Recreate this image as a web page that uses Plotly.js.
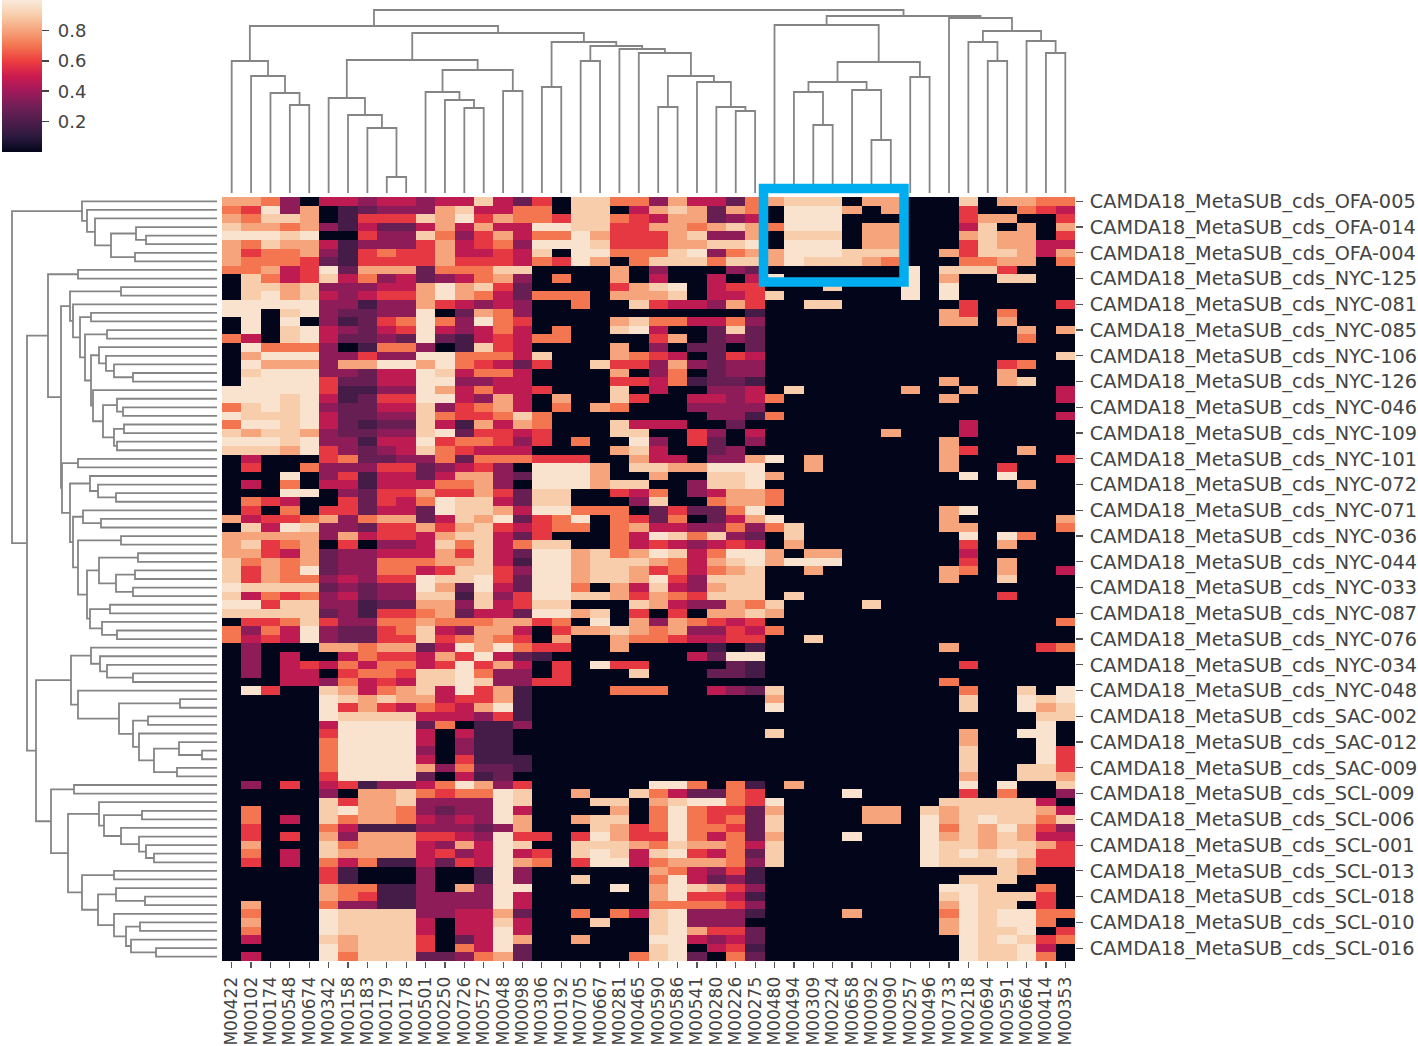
<!DOCTYPE html>
<html>
<head>
<meta charset="utf-8">
<script src="https://cdn.plot.ly/plotly-3.0.1.min.js"></script>
<style>html,body{margin:0;padding:0;background:#fff}</style>
</head>
<body>
<div id="chart" style="width:1418px;height:1046px"></div>
<script>
const columnLabels = ["M00422","M00102","M00174","M00548","M00674","M00342","M00158","M00183","M00179","M00178","M00501","M00250","M00726","M00572","M00048","M00098","M00306","M00192","M00705","M00667","M00281","M00465","M00590","M00586","M00541","M00280","M00226","M00275","M00480","M00494","M00309","M00224","M00658","M00092","M00090","M00257","M00496","M00733","M00218","M00694","M00591","M00664","M00414","M00353"];
const rowTickLabels = ["OFA-005","OFA-014","OFA-004","NYC-125","NYC-081","NYC-085","NYC-106","NYC-126","NYC-046","NYC-109","NYC-101","NYC-072","NYC-071","NYC-036","NYC-044","NYC-033","NYC-087","NYC-076","NYC-034","NYC-048","SAC-002","SAC-012","SAC-009","SCL-009","SCL-006","SCL-001","SCL-013","SCL-018","SCL-010","SCL-016"];
const colorbarTicks = [0.2,0.4,0.6,0.8];
// value of each digit used in the rows below
const levelValues = [0,0.17,0.27,0.36,0.47,0.58,0.7,0.8,0.9,0.97];
// one string per row, one digit per column
const rowLevels = [
"7763044344 3448425088 66 3744267888 0770008077 66",
"6593701233 3784466088 04 7872760999 7070005006 54",
"7688701555 8795766588 65 4772340999 0000005770 05",
"8776731422 4747449988 55 7767876999 0770004807 07",
"9998900533 8635746697 55 5783370888 0770007877 05",
"7687741333 5745639998 55 5778890999 0770005877 44",
"7566731565 5744548099 66 6893677999 8880075887 47",
"7666521555 5755546597 06 8886887988 8760006677 06",
"6674592777 2666880000 70 3000320000 0009088850 00",
"0864584634 2346730600 70 4004049000 0009070088 00",
"0887833344 7978520000 57 8904550008 0009090000 00",
"0897843455 7976426660 77 7804458000 0009090000 00",
"9999933133 7543430060 08 5443750088 0000005000 05",
"9908932233 9027630000 00 0000010000 0000075060 00",
"0909031256 9639650000 78 6644630000 0000077070 00",
"0908943245 9434640600 89 4002820000 0000000007 07",
"6408942232 9214546600 00 5702320000 0000000006 00",
"0966630166 3018540000 70 3022020000 0000000000 00",
"0799933533 9966648000 76 5402540000 0000000000 08",
"0977737799 7965425008 55 3732330000 0000000056 00",
"0899933244 9846640000 70 3602330000 0000000070 00",
"0999952244 9933440000 55 4612210000 0000070078 00",
"9999951133 9746445000 80 4003340800 0007007000 04",
"9998941255 9943740700 85 0044346000 0000070000 04",
"6898932244 8356740607 60 0033330000 0000000000 00",
"9888942233 8655686000 00 0003316000 0000000000 04",
"6998942122 8417476000 84 4400200000 0000004000 00",
"8788732233 8925545000 88 0053040000 0070004000 00",
"9998933144 9566535060 09 3052030000 0000070000 00",
"8887953234 8654440000 78 4002300000 0000075007 00",
"0400056223 3626665550 07 4403379070 0000070000 05",
"0500633355 2345309997 08 8779990070 0000070050 00",
"0009035144 2477329997 00 7008897000 0000009090 00",
"0406044144 4667309997 88 0038890000 0000000007 00",
"0009903255 7557528800 54 6034776000 0000000000 00",
"0654005254 6988428800 03 8006776000 0000000000 00",
"0506055244 2988749966 60 2522690000 0000079000 00",
"7455673677 2487925690 65 2602479000 0000070000 07",
"0849833255 7578545660 67 4433636800 0000077000 06",
"7777737455 4788425000 64 9868320800 0000009096 00",
"7856705033 4868468800 64 5434540700 0000005070 00",
"7754723344 4758429978 67 9846997077 0000004000 00",
"8676723366 6778419978 88 7647897999 0000005070 00",
"8576923366 4588539978 87 5646780070 0000076070 04",
"8576634355 9889529978 87 9538880000 0000070080 00",
"9888823233 9729429960 74 8437880000 0000000000 00",
"8465634233 8818359988 75 7658880800 0000000050 00",
"9958833122 7738458800 08 7433768000 0800000000 00",
"8888823155 6724429978 05 0507787000 0000000000 00",
"0556853366 7666775609 07 3765450000 0000000000 06",
"6364932256 8437740577 87 6733546000 0000000000 00",
"6454932255 8567650700 76 6544550080 0000000000 00",
"0300077677 2497965500 70 0001010000 0000070000 56",
"0304004655 4759421000 00 0042990000 0000000000 00",
"0304546466 4595740509 55 0000210000 0000005000 00",
"0304405665 8896330500 08 0002210000 0000000000 00",
"0004436454 8898335500 00 0000000000 0000060000 00",
"0950087467 8495710000 66 6004328000 0000006008 09",
"0000098787 7455710000 00 0000007000 0000008009 89",
"0000095754 6547910000 00 0000009000 0000008009 78",
"0000098888 4443510000 00 0000000000 0000000000 88",
"0000049999 2601130000 00 0000000000 0000000000 90",
"0000059999 4041100000 00 0000008000 0000007009 90",
"0000069999 4031100000 00 0000000000 0000007000 90",
"0000069999 3031100000 00 0000000000 0000008000 95",
"0000069999 4051110000 00 0000000000 0000008000 95",
"0000069999 7362210000 00 0000000000 0000008008 85",
"0000059999 2041200000 00 0000000000 0000007008 87",
"0305045133 4697350000 00 9960610700 0000009090 08",
"0000030778 6566980070 08 6422650000 9000005060 03",
"0000085778 3333980008 80 7899659000 0000088888 40",
"0600089776 3233940000 70 6965527000 0770878888 74",
"0604086776 4343970078 80 6965628000 0770978988 68",
"0500064111 3332370008 75 6966528000 0000968797 53",
"0505073777 5543955059 75 5964627000 9000978787 44",
"0700086777 4374980088 87 6877648000 0000988788 75",
"0604087777 4534945089 84 8954628000 0000989898 55",
"0504064611 4254976059 94 6777638000 0000988887 55",
"0000051000 3001930000 00 7643510000 0000000087 00",
"0000051000 3001930080 00 6942310000 0000008880 00",
"0000076611 3073990000 90 7987530000 0000099800 60",
"0000076511 3333940000 00 7955410000 0000089888 50",
"0700063311 3333940000 00 6666530000 0000079880 50",
"0600098888 3344720060 64 8933310000 7000069899 66",
"0700098888 4044840008 00 8933300000 0000079899 60",
"0600098888 4044940000 00 8975520000 0000079889 05",
"0400087888 5024970070 00 9943420000 0000009898 56",
"0000097888 5064920000 00 8904510000 0000009889 40",
"0400096888 2236720000 06 8920620000 0000009889 60"
];
// dendrograms: [bar position, first child, second child]; a plain number is a leaf index
const columnTree = [10,
  [26,
    [61,0,[76,1,[93,2,[105,3,4]]]],
    [33,
      [60,
        [98,5,[115,6,[128,7,[177,8,9]]]],
        [70,[92,10,[100,11,[108,12,13]]],[91,14,15]]
      ],
      [42,[87,16,17],[46,[61,18,19],[49,20,[53,21,[76,[107,22,23],[82,24,[107,25,[111,26,27]]]]]]]]
    ]
  ],
  [16,
    [25,28,[62,[82,[92,29,[125,30,31]],[90,32,[140,33,34]]],[77,35,36]]],
    [18,37,[31,[42,38,[61,39,40]],[41,41,[53,42,43]]]]
  ]
];
const rowTree = [12,
  [82,0,[87,1,[95,2,[111,[136,3,[146,4,5]],[135,6,7]]]]],
  [27,
    [48,[78,8,9],
      [61,
        [70,[121,10,11],[73,12,[80,[91,13,14],[85,[107,15,16],[91,[99,17,[106,18,[114,19,[133,20,21]]]],[93,22,[103,[117,23,[123,24,25]],[114,[124,26,27],[117,28,29]]]]]]]]],
        [62,[78,30,31],[70,[90,32,[98,33,[116,34,35]]],[73,[83,36,[101,37,38]],[78,[121,39,40],[87,[99,[138,41,42],[116,[135,43,44],[133,45,46]]],[90,[110,47,48],[102,49,[117,50,51]]]]]]]]
      ]
    ],
    [36,
      [71,
        [91,52,[100,53,[107,54,[133,55,56]]]],
        [78,57,[119,[180,58,59],[133,[148,60,61],[139,62,[154,[179,63,[202,64,65]],[177,66,67]]]]]]
      ],
      [51,
        [74,68,69],
        [68,
          [99,70,[104,[142,71,72],[121,73,[139,74,[146,75,[154,76,77]]]]]],
          [82,[114,78,79],[98,[116,80,[145,81,82]],[114,83,[126,[140,84,85],[131,86,[156,87,88]]]]]]
        ]
      ]
    ]
  ]
];
const rocket = [[0,"#03051A"],[0.1,"#2B1A3F"],[0.2,"#4E1D4B"],[0.3,"#711F57"],[0.4,"#A11A5B"],[0.5,"#CB1B4F"],[0.6,"#ED3F3F"],[0.7,"#F37651"],[0.8,"#F6A47C"],[0.9,"#F8CDAB"],[1,"#FAEBDD"]];

const W = 1418, H = 1046;
const z = rowLevels.map(r => r.replace(/ /g,"").padEnd(columnLabels.length,"0").split("").map(d => levelValues[+d]));
const rowIdx = z.map((_,i) => i);
const colIdx = columnLabels.map((_,i) => i);
const rowTicks = rowTickLabels.map((_,i) => i*3);

function walk(node, pos, bar, base) {
  if (typeof node === "number") return {p:node, b:base};
  const a = walk(node[1],pos,bar,base), c = walk(node[2],pos,bar,base);
  pos.push(a.p,a.p,c.p,c.p,null);
  bar.push(a.b,node[0],node[0],c.b,null);
  return {p:(a.p+c.p)/2, b:node[0]};
}
const topX=[], topY=[]; walk(columnTree,topX,topY,193);
const leftY=[], leftX=[]; walk(rowTree,leftY,leftX,217);

const lineStyle = {color:"#858585",width:1.8};
const data = [
  {type:"heatmap",z:z,x:colIdx,y:rowIdx,xaxis:"x",yaxis:"y",colorscale:rocket,zmin:0,zmax:1,hoverinfo:"skip",
   colorbar:{thicknessmode:"pixels",thickness:40,lenmode:"pixels",len:152,x:2/W,xanchor:"left",y:1,yanchor:"top",xpad:0,ypad:0,
     outlinewidth:0,borderwidth:0,ticks:"outside",ticklen:7,tickwidth:1.5,tickcolor:"#444",tickvals:colorbarTicks,ticktext:colorbarTicks.map(v => "\u00A0"+v),
     tickfont:{family:"DejaVu Sans",size:18,color:"#444"}}},
  {type:"scatter",mode:"lines",x:topX,y:topY,xaxis:"x2",yaxis:"y2",line:lineStyle,hoverinfo:"skip",showlegend:false},
  {type:"scatter",mode:"lines",x:leftX,y:leftY,xaxis:"x3",yaxis:"y3",line:lineStyle,hoverinfo:"skip",showlegend:false}
];
const hidden = {visible:false,fixedrange:true};
const layout = {
  width:W,height:H,margin:{l:0,r:0,t:0,b:0},paper_bgcolor:"#fff",plot_bgcolor:"#fff",showlegend:false,
  xaxis:{domain:[222/W,1075/W],range:[-0.5,43.5],anchor:"y",tickmode:"array",tickvals:colIdx,ticktext:columnLabels,tickangle:-90,ticklabelstandoff:2,
    ticks:"outside",ticklen:6,tickwidth:1.2,tickcolor:"#555",tickfont:{family:"DejaVu Sans",size:17,color:"#444"},showgrid:false,zeroline:false,showline:false,automargin:false},
  yaxis:{domain:[1-961/H,1-197/H],range:[88.5,-0.5],anchor:"x",side:"right",tickmode:"array",tickvals:rowTicks,ticklabelstandoff:3,
    ticktext:rowTickLabels.map(s => "CAMDA18_MetaSUB_cds_"+s),ticks:"outside",ticklen:7,tickwidth:1.2,tickcolor:"#555",
    tickfont:{family:"DejaVu Sans",size:19.3,color:"#444"},showgrid:false,zeroline:false,showline:false,automargin:false},
  xaxis2:Object.assign({domain:[222/W,1075/W],range:[-0.5,43.5],anchor:"y2"},hidden),
  yaxis2:Object.assign({domain:[1-193/H,1],range:[193,0],anchor:"x2"},hidden),
  xaxis3:Object.assign({domain:[0,217/W],range:[0,217],anchor:"y3"},hidden),
  yaxis3:Object.assign({domain:[1-961/H,1-197/H],range:[88.5,-0.5],anchor:"x3"},hidden),
  shapes:[{type:"rect",xref:"paper",yref:"paper",x0:763.5/W,x1:904/W,y0:1-188.5/H,y1:1-282/H,line:{color:"#00AEEF",width:9.5},fillcolor:"rgba(0,0,0,0)",layer:"above"}]
};
Plotly.newPlot("chart",data,layout,{displayModeBar:false,staticPlot:true});
</script>
</body>
</html>
